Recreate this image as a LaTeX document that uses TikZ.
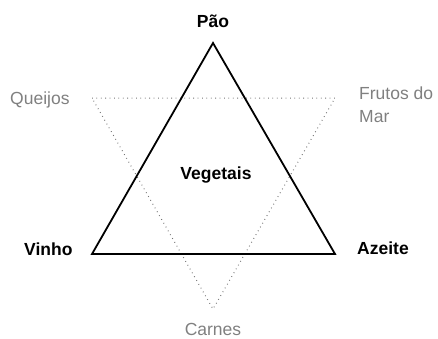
\documentclass[tikz,border=0pt]{standalone}
\usepackage{fontspec}
\setmainfont{Liberation Sans}
\begin{document}
\begin{tikzpicture}[x=1pt,y=-1pt,
  lbl/.style={inner sep=0pt, font=\fontsize{17.5}{23}\selectfont},
  blbl/.style={lbl, font=\fontsize{17.5}{23}\selectfont\bfseries, text=black},
  glbl/.style={lbl, text=black!50},
  solidtri/.style={line width=1.8pt, line join=miter, black},
  dottri/.style={line width=1pt, black!55, dash pattern=on 0.8pt off 3.6pt}]
\useasboundingbox (0,0) rectangle (438,338);
\coordinate (A) at (213,43);
\coordinate (B) at (92,254);
\coordinate (C) at (335,254);
\coordinate (D) at (92,98);
\coordinate (E) at (335,98);
\coordinate (F) at (213,309);
\draw[dottri] (D) -- (E) -- (F) -- cycle;
\draw[solidtri] (A) -- (B) -- (C) -- cycle;
\node[blbl, anchor=base] (pao) at (213,27) {Pão};
\node[blbl, anchor=base west] (vinho) at (24,255) {Vinho};
\node[blbl, anchor=base west] (azeite) at (357,254) {Azeite};
\node[blbl, anchor=base] (veg) at (216,179) {Vegetais};
\node[glbl, anchor=base west] (queijos) at (10,104) {Queijos};
\node[glbl, anchor=north west, align=left] (frutos) at (359,87) {Frutos do\\Mar};
\node[glbl, anchor=base] (carnes) at (213,335) {Carnes};
\end{tikzpicture}
\end{document}
